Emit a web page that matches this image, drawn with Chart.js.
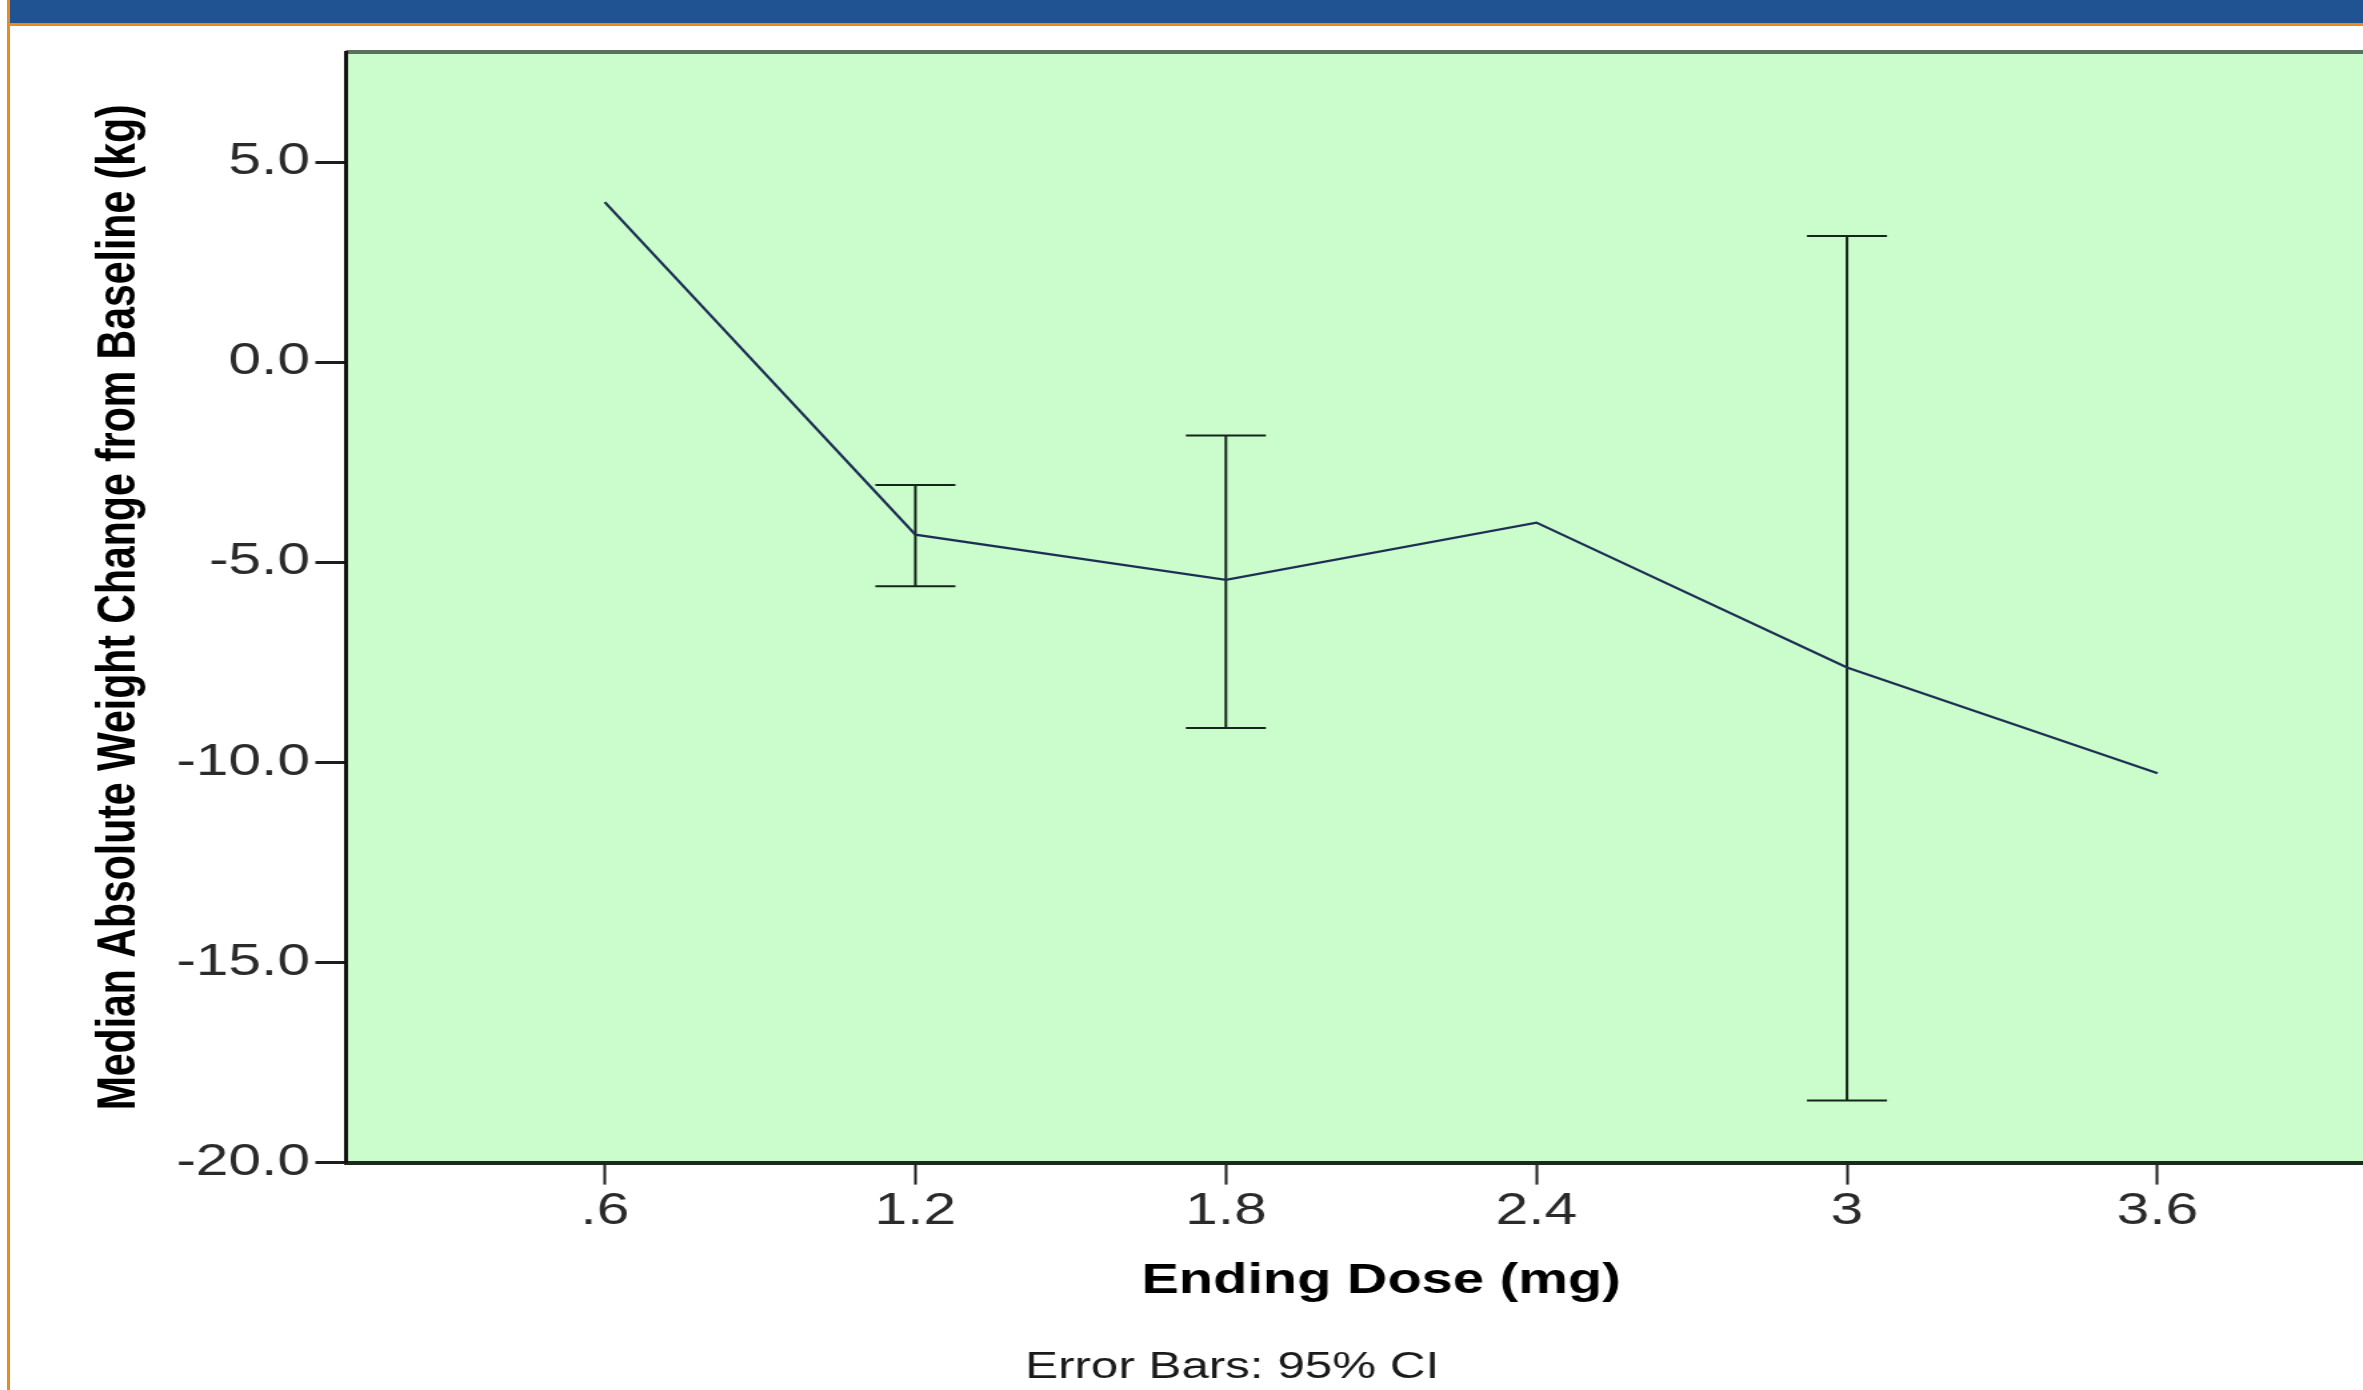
<!DOCTYPE html>
<html>
<head>
<meta charset="utf-8">
<script src="https://cdn.jsdelivr.net/npm/chart.js@4.4.1/dist/chart.umd.min.js"></script>
<style>
  html, body { margin: 0; padding: 0; width: 2363px; height: 1390px; overflow: hidden; background: #fff; }
  #topbar { position: absolute; left: 10px; top: 0; width: 2353px; height: 23px; background: #1f5391; z-index: 2; }
  #topline { position: absolute; left: 7px; top: 23px; width: 2356px; height: 3px; background: #ec8a1c; z-index: 2; }
  #leftline { position: absolute; left: 7px; top: 0; width: 3px; height: 1390px; background: #ec8a1c; z-index: 2; }
  /* the source picture is stretched sideways, so the whole chart is too */
  #wrap { position: absolute; left: 0; top: 0; width: 1886px; height: 1390px; transform: scaleX(1.3335); transform-origin: 0 0; }
</style>
</head>
<body>
<div id="topbar"></div>
<div id="topline"></div>
<div id="leftline"></div>
<div id="wrap"><canvas id="chart" width="1886" height="1390"></canvas></div>
<script>
// data
const doses = [0.6, 1.2, 1.8, 2.4, 3.0, 3.6];
const doseLabels = ['.6', '1.2', '1.8', '2.4', '3', '3.6'];
const medianChange = [4.0, -4.31, -5.44, -4.01, -7.63, -10.27];
const ciLower = [null, -5.6, -9.14, null, -18.45, null];
const ciUpper = [null, -3.07, -1.83, null, 3.15, null];
const yTicks = [-20, -15, -10, -5, 0, 5];

const yTitle = 'Median Absolute Weight Change from Baseline (kg)';
const xTitle = 'Ending Dose (mg)';
const footNote = 'Error Bars: 95% CI';

const FONT = "'Liberation Sans', Arial, sans-serif";

// green plot area + its grey top edge
const plotBackground = {
  id: 'plotBackground',
  beforeDraw(chart) {
    const { ctx, chartArea: a } = chart;
    ctx.save();
    ctx.fillStyle = '#cbfccb';
    ctx.fillRect(a.left, a.top, a.right - a.left, a.bottom - a.top);
    ctx.strokeStyle = '#5c705c';
    ctx.lineWidth = 4;
    ctx.beginPath();
    ctx.moveTo(a.left, a.top);
    ctx.lineTo(a.right, a.top);
    ctx.stroke();
    ctx.restore();
  }
};

// one small dataset per error bar, caps drawn as 'line' points
const errorBarSets = [];
doses.forEach((d, i) => {
  if (ciLower[i] === null) return;
  errorBarSets.push({
    type: 'line',
    data: [{ x: d, y: ciLower[i] }, { x: d, y: ciUpper[i] }],
    borderColor: '#14261a',
    borderWidth: 2,
    pointStyle: 'line',
    pointRadius: 30,
    pointBorderWidth: 2,
    pointBorderColor: '#14261a',
    pointHoverRadius: 30
  });
});

const ctx = document.getElementById('chart').getContext('2d');
new Chart(ctx, {
  type: 'line',
  data: {
    datasets: [
      {
        data: doses.map((d, i) => ({ x: d, y: medianChange[i] })),
        borderColor: '#1d2f55',
        borderWidth: 2.2,
        pointRadius: 0,
        tension: 0
      },
      ...errorBarSets
    ]
  },
  plugins: [plotBackground],
  options: {
    responsive: false,
    devicePixelRatio: 1,
    animation: false,
    layout: { padding: { top: 52, right: 74, bottom: 0, left: 36 } },
    scales: {
      x: {
        type: 'linear',
        min: 0.1,
        max: 4.1,
        afterBuildTicks: s => { s.ticks = doses.map(v => ({ value: v })); },
        afterFit: s => { s.height = 144; },
        ticks: {
          callback: (v, i) => doseLabels[i],
          font: { family: FONT, size: 44 },
          color: '#2a2a2a',
          padding: 1,
          maxRotation: 0,
          autoSkip: false
        },
        grid: { drawOnChartArea: false, tickLength: 22, tickWidth: 2, tickColor: '#1d1d1d' },
        border: { color: '#1c2a1c', width: 4 },
        title: {
          display: true,
          text: xTitle,
          font: { family: FONT, size: 42, weight: 'bold' },
          color: '#000',
          padding: { top: 0, bottom: 0 }
        }
      },
      y: {
        min: -20,
        max: 7.75,
        afterBuildTicks: s => { s.ticks = yTicks.map(v => ({ value: v })); },
        afterFit: s => { s.width = 223.5; },
        ticks: {
          callback: v => v.toFixed(1),
          font: { family: FONT, size: 44 },
          color: '#2a2a2a',
          padding: 4
        },
        grid: { drawOnChartArea: false, tickLength: 23, tickWidth: 3, tickColor: '#1d1d1d' },
        border: { color: '#111', width: 3 },
        title: {
          display: true,
          text: yTitle,
          font: { family: FONT, size: 41, weight: 'bold' },
          color: '#000',
          padding: { top: 29, bottom: 0 }
        }
      }
    },
    plugins: {
      legend: { display: false },
      tooltip: { enabled: false },
      title: {
        display: true,
        position: 'bottom',
        text: footNote,
        font: { family: FONT, size: 37, weight: 'normal' },
        color: '#1a1a1a',
        padding: { top: 39, bottom: 0 }
      }
    }
  }
});
</script>
</body>
</html>
